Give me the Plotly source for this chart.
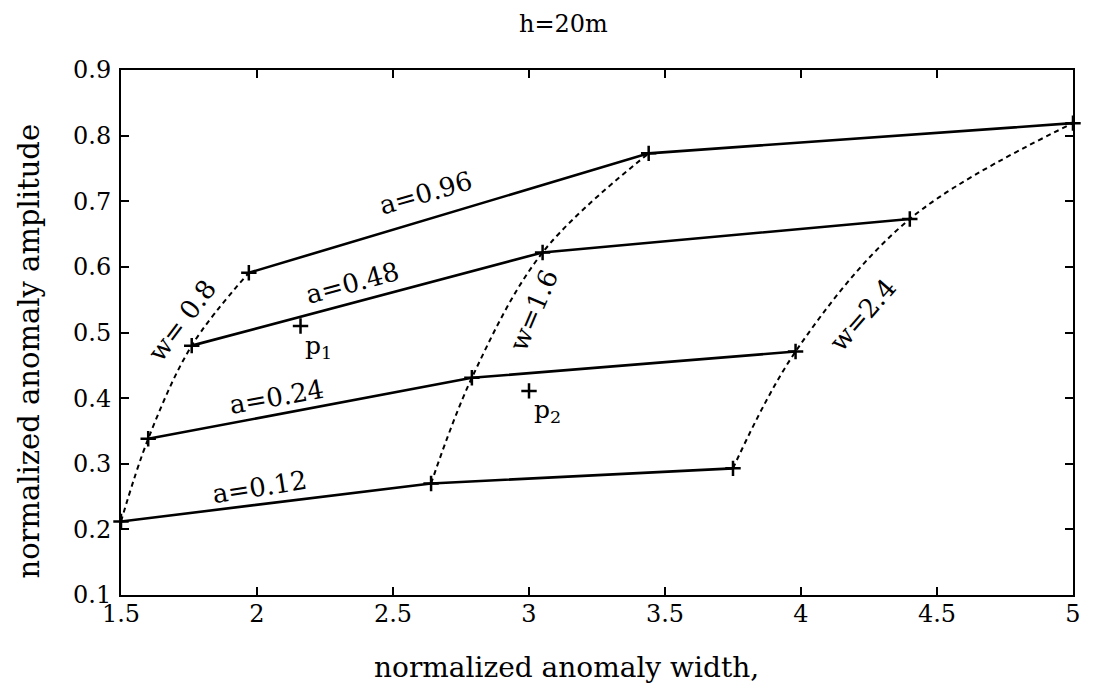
import plotly.graph_objects as go

# ---- data ----
w_labels = ["w= 0.8", "w=1.6", "w=2.4"]
a_labels = ["a=0.12", "a=0.24", "a=0.48", "a=0.96"]

# nodes of each constant-a curve (one node per w value 0.8, 1.6, 2.4)
width_a012 = [1.50, 2.64, 3.75]
amp_a012 = [0.212, 0.270, 0.293]
width_a024 = [1.60, 2.79, 3.98]
amp_a024 = [0.338, 0.431, 0.471]
width_a048 = [1.76, 3.05, 4.40]
amp_a048 = [0.480, 0.622, 0.673]
width_a096 = [1.97, 3.44, 5.00]
amp_a096 = [0.591, 0.773, 0.819]

# measured points
p_labels = ["p<sub>1</sub>", "p<sub>2</sub>"]
p_width = [2.16, 3.00]
p_amp = [0.510, 0.411]

x_ticks = [1.5, 2, 2.5, 3, 3.5, 4, 4.5, 5]
x_ticktext = ["1.5", "2", "2.5", "3", "3.5", "4", "4.5", "5"]
y_ticks = [0.1, 0.2, 0.3, 0.4, 0.5, 0.6, 0.7, 0.8, 0.9]
y_ticktext = ["0.1", "0.2", "0.3", "0.4", "0.5", "0.6", "0.7", "0.8", "0.9"]

title_text = "h=20m"
x_title = "normalized anomaly width,"
y_title = "normalized anomaly amplitude"

FONT = "DejaVu Serif"

a_widths = [width_a012, width_a024, width_a048, width_a096]
a_amps = [amp_a012, amp_a024, amp_a048, amp_a096]

fig = go.Figure()

# constant-w curves (dotted), built from the same nodes
for j in range(len(w_labels)):
    fig.add_trace(go.Scatter(
        x=[aw[j] for aw in a_widths],
        y=[am[j] for am in a_amps],
        mode="lines",
        line=dict(color="black", width=2, dash="5px,4px", shape="spline", smoothing=1.0),
        hoverinfo="skip", showlegend=False, cliponaxis=False,
    ))

# constant-a curves (solid with + markers)
for aw, am in zip(a_widths, a_amps):
    fig.add_trace(go.Scatter(
        x=aw, y=am,
        mode="lines+markers",
        line=dict(color="black", width=2.6),
        marker=dict(symbol="cross-thin", size=11, line=dict(color="black", width=2.5)),
        hoverinfo="skip", showlegend=False, cliponaxis=False,
    ))

# measured points p1, p2
fig.add_trace(go.Scatter(
    x=p_width, y=p_amp, mode="markers",
    marker=dict(symbol="cross-thin", size=11, line=dict(color="black", width=2.5)),
    hoverinfo="skip", showlegend=False,
))

# in-plot labels
a_label_pos = [(2.01, 0.265, -9), (2.07, 0.402, -10), (2.35, 0.575, -15), (2.62, 0.713, -16)]
for txt, (lx, ly, ang) in zip(a_labels, a_label_pos):
    fig.add_annotation(x=lx, y=ly, text=txt, showarrow=False, textangle=ang,
                       xanchor="center", yanchor="middle",
                       font=dict(family=FONT, size=26, color="black"))

w_label_pos = [(1.726, 0.519, -53), (3.018, 0.534, -67), (4.226, 0.527, -49)]
for txt, (lx, ly, ang) in zip(w_labels, w_label_pos):
    fig.add_annotation(x=lx, y=ly, text=txt, showarrow=False, textangle=ang,
                       xanchor="center", yanchor="middle",
                       font=dict(family=FONT, size=26, color="black"))

p_label_pos = [(2.17, 0.478), (3.01, 0.38)]
for txt, (lx, ly) in zip(p_labels, p_label_pos):
    fig.add_annotation(x=lx, y=ly, text=txt, showarrow=False, xanchor="left", yanchor="middle",
                       font=dict(family=FONT, size=25, color="black"))

# title and axis titles
fig.add_annotation(xref="paper", yref="paper", x=0.465, y=1.088, text=title_text,
                   xanchor="center", yanchor="middle",
                   showarrow=False, font=dict(family=FONT, size=24, color="black"))
fig.add_annotation(xref="paper", yref="paper", x=0.468, y=-0.139, text=x_title,
                   xanchor="center", yanchor="middle",
                   showarrow=False, font=dict(family=FONT, size=28, color="black"))
fig.add_annotation(xref="paper", yref="paper", x=-0.097, y=0.465, text=y_title,
                   xanchor="center", yanchor="middle",
                   showarrow=False, textangle=-90, font=dict(family=FONT, size=29, color="black"))

axis_common = dict(
    showgrid=False, zeroline=False, showline=True, linecolor="black", linewidth=2,
    mirror="ticks", ticks="inside", ticklen=8, tickwidth=2, tickcolor="black",
    tickfont=dict(family=FONT, size=24, color="black"),
)

# the page body has an 8px default margin; size/margins compensate for it
fig.update_layout(
    width=1085, height=678, autosize=False,
    margin=dict(l=113, r=13, t=62, b=91),
    paper_bgcolor="white", plot_bgcolor="white",
    xaxis=dict(range=[1.5, 5], tickvals=x_ticks, ticktext=x_ticktext, ticklabelstandoff=-4, **axis_common),
    yaxis=dict(range=[0.1, 0.9], tickvals=y_ticks, ticktext=y_ticktext, ticklabelstandoff=3, **axis_common),
    showlegend=False,
)

fig.write_html("out.html")
